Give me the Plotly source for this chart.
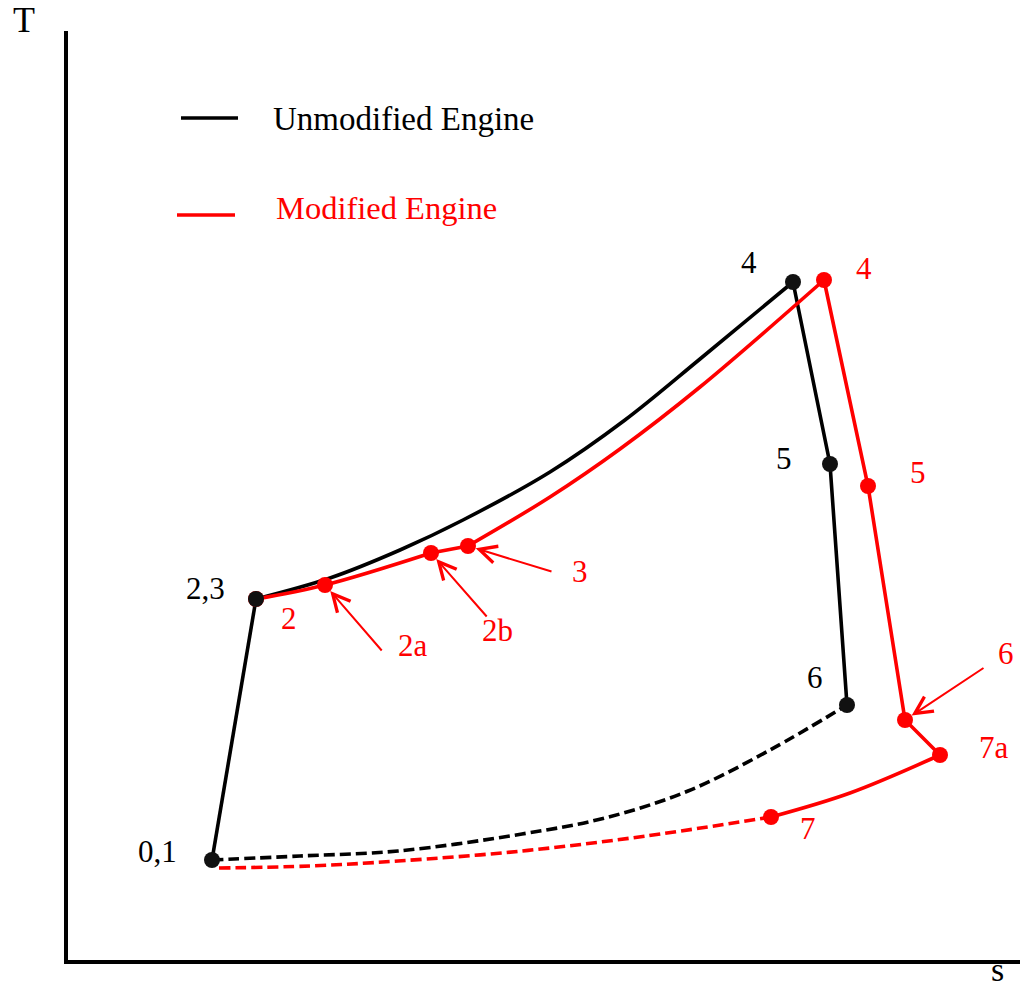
import plotly.graph_objects as go

# ---------------- data (entropy s, temperature T in diagram units) ----------------
# Unmodified engine (black)
black_state_labels = ["0,1", "2,3", "4", "5", "6"]
black_state_s = [212, 256, 793, 830, 847]
black_state_T = [130, 391, 708, 526, 285]

black_intake_s = [212, 256]
black_intake_T = [130, 391]
black_heat_s = [256, 330, 400, 463, 550, 625, 700, 793]
black_heat_T = [391, 412, 440, 470, 518, 570, 631, 708]
black_expand_s = [793, 830, 847]
black_expand_T = [708, 526, 285]
black_exhaust_s = [212, 300, 398, 522, 605, 688, 770, 847]
black_exhaust_T = [130, 134, 139, 156, 172, 199, 240, 285]

# Modified engine (red)
red_state_labels = ["2", "2a", "2b", "3", "4", "5", "6", "7a", "7"]
red_state_s = [256, 325, 431, 468, 824, 868, 905, 940, 771]
red_state_T = [391, 405, 437, 444, 710, 504, 270, 235, 173]

red_low_s = [256, 325, 431]
red_low_T = [391, 405, 437]
red_link_s = [431, 468]
red_link_T = [437, 444]
red_heat_s = [468, 550, 620, 700, 824]
red_heat_T = [444, 493, 541, 603, 710]
red_expand_s = [824, 868, 905, 940]
red_expand_T = [710, 504, 270, 235]
red_cool_s = [940, 850, 771]
red_cool_T = [235, 197, 173]
red_exhaust_s = [219, 310, 398, 522, 646, 771]
red_exhaust_T = [122, 124, 129, 139, 154, 173]

legend_labels = ["Unmodified Engine", "Modified Engine"]
axis_labels = ["T", "s"]

# ---------------- styling ----------------
BLACK = "#000000"
RED = "#ff0000"
FONT = "Liberation Serif"
LW = 3.6
DASH = "11px,5px"

fig = go.Figure()


def line(xs, ys, color, dash="solid", shape="linear"):
    fig.add_trace(go.Scatter(
        x=xs, y=ys, mode="lines",
        line=dict(color=color, width=LW, dash=dash, shape=shape, smoothing=1.0),
        hoverinfo="skip", showlegend=False))


# black lines
line(black_intake_s, black_intake_T, BLACK)
line(black_heat_s, black_heat_T, BLACK, shape="spline")
line(black_expand_s, black_expand_T, BLACK)
line(black_exhaust_s, black_exhaust_T, BLACK, dash=DASH, shape="spline")

# red lines
line(red_low_s, red_low_T, RED, shape="spline")
line(red_link_s, red_link_T, RED)
line(red_heat_s, red_heat_T, RED, shape="spline")
line(red_expand_s, red_expand_T, RED)
line(red_cool_s, red_cool_T, RED, shape="spline")
line(red_exhaust_s, red_exhaust_T, RED, dash=DASH, shape="spline")

# state markers (black drawn last so the shared 2,3 point shows black)
fig.add_trace(go.Scatter(
    x=red_state_s, y=red_state_T, mode="markers",
    marker=dict(color=RED, size=16), hoverinfo="skip", showlegend=False))
fig.add_trace(go.Scatter(
    x=black_state_s, y=black_state_T, mode="markers",
    marker=dict(color="#111111", size=16), hoverinfo="skip", showlegend=False))

# ---------------- labels ----------------
LABEL_SIZE = 31
black_offsets = {"0,1": (-55, 9), "2,3": (-51, 11), "4": (-44, 20),
                 "5": (-46, 6), "6": (-32, 28)}
red_offsets = {"2": (33, -19), "2a": (88, -60), "2b": (66, -77), "3": (112, -25),
               "4": (40, 12), "5": (50, 14), "6": (101, 67), "7a": (54, 8),
               "7": (37, -11)}

for lab, s, t in zip(black_state_labels, black_state_s, black_state_T):
    dx, dy = black_offsets[lab]
    fig.add_annotation(x=s, y=t, text=lab, showarrow=False, xshift=dx, yshift=dy,
                       font=dict(family=FONT, size=LABEL_SIZE, color=BLACK))
for lab, s, t in zip(red_state_labels, red_state_s, red_state_T):
    dx, dy = red_offsets[lab]
    fig.add_annotation(x=s, y=t, text=lab, showarrow=False, xshift=dx, yshift=dy,
                       font=dict(family=FONT, size=LABEL_SIZE, color=RED))

# pointer arrows (tail offset in px, plotly ay positive = down)
arrow_tails = {"2a": (58, 67), "2b": (57, 65), "3": (85, 26), "6": (80, -53)}
for lab, s, t in zip(red_state_labels, red_state_s, red_state_T):
    if lab in arrow_tails:
        ax, ay = arrow_tails[lab]
        fig.add_annotation(x=s, y=t, ax=ax, ay=ay, text="", showarrow=True,
                           arrowhead=5, arrowsize=1.7, arrowwidth=2,
                           arrowcolor=RED, standoff=8)

# ---------------- frame (diagram axes) ----------------
fig.add_shape(type="line", x0=66, x1=66, y0=28, y1=959,
              line=dict(color=BLACK, width=4))
fig.add_shape(type="line", x0=64, x1=1020, y0=28, y1=28,
              line=dict(color=BLACK, width=4))
fig.add_annotation(x=24, y=970, text=axis_labels[0], showarrow=False,
                   font=dict(family=FONT, size=36, color=BLACK))
fig.add_annotation(x=997, y=0, text=axis_labels[1], showarrow=False,
                   yanchor="bottom", font=dict(family=FONT, size=34, color=BLACK))

# ---------------- legend (drawn) ----------------
fig.add_shape(type="line", x0=181, x1=238, y0=872, y1=872,
              line=dict(color=BLACK, width=LW))
fig.add_shape(type="line", x0=177, x1=235, y0=775, y1=775,
              line=dict(color=RED, width=LW))
fig.add_annotation(x=271, y=871, text=legend_labels[0], showarrow=False,
                   xanchor="left", font=dict(family=FONT, size=33, color=BLACK))
fig.add_annotation(x=274, y=782, text=legend_labels[1], showarrow=False,
                   xanchor="left", font=dict(family=FONT, size=32.5, color=RED))

fig.update_layout(
    width=1020, height=990,
    margin=dict(l=0, r=0, t=0, b=0),
    paper_bgcolor="white", plot_bgcolor="white",
    xaxis=dict(range=[0, 1020], visible=False, fixedrange=True),
    yaxis=dict(range=[0, 990], visible=False, fixedrange=True),
    showlegend=False,
)

fig.write_html(
    "out.html",
    config={"displayModeBar": False},
    post_script="document.body.style.margin='0';document.body.style.overflow='hidden';",
)
